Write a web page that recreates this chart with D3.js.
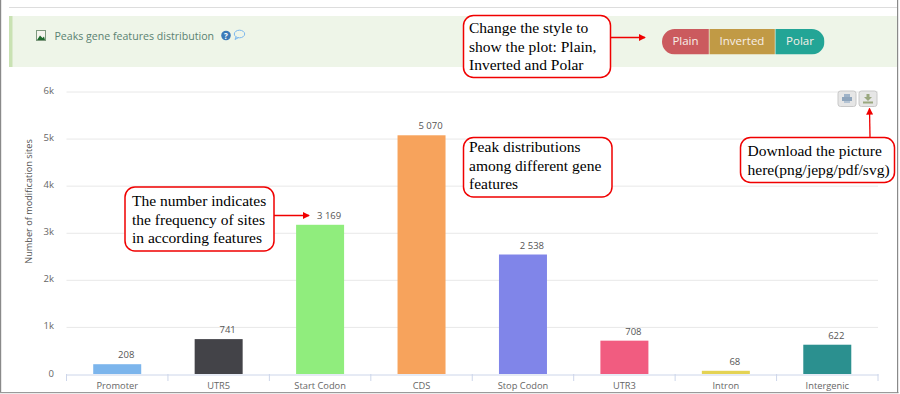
<!DOCTYPE html>
<html>
<head>
<meta charset="utf-8">
<script src="https://cdn.jsdelivr.net/npm/d3@7"></script>
<style>
  html, body { margin: 0; padding: 0; background: white; overflow: hidden; }
  text { font-family: "Open Sans", sans-serif; }
  .note { font-family: "Liberation Serif", serif; font-size: 15.5px; fill: #000; }
</style>
</head>
<body>
<div id="container"></div>
<script>
let w = 900;
let h = 394;

let categories = ["Promoter", "UTR5", "Start Codon", "CDS", "Stop Codon", "UTR3", "Intron", "Intergenic"];
let sites = [208, 741, 3169, 5070, 2538, 708, 68, 622];
let barColors = ["#7cb5ec", "#434348", "#90ed7d", "#f7a35c", "#8085e9", "#f15c80", "#e4d354", "#2b908f"];
let yTicks = [0, 1000, 2000, 3000, 4000, 5000, 6000];
let yTickLabels = ["0", "1k", "2k", "3k", "4k", "5k", "6k"];
let styleButtons = ["Plain", "Inverted", "Polar"];
let styleColors = ["#cb5a5e", "#c19a45", "#23a596"];

let viz = d3.select("#container")
  .append("svg")
    .attr("width", w)
    .attr("height", h)
    .style("display", "block")
    .style("background-color", "white")
;

let defs = viz.append("defs");
defs.append("marker")
    .attr("id", "arrow")
    .attr("viewBox", "0 0 8 8")
    .attr("refX", 7)
    .attr("refY", 4)
    .attr("markerWidth", 7)
    .attr("markerHeight", 7)
    .attr("markerUnits", "userSpaceOnUse")
    .attr("orient", "auto")
  .append("path")
    .attr("d", "M0,0L8,4L0,8Z")
    .attr("fill", "#f00000")
;

// page frame
viz.append("rect").attr("x", 0).attr("y", 0).attr("width", 1.2).attr("height", 393).attr("fill", "#8a8a8a");
viz.append("rect").attr("x", 0).attr("y", 392).attr("width", 898.5).attr("height", 1.2).attr("fill", "#9a9a9a");
viz.append("rect").attr("x", 897).attr("y", 0).attr("width", 1.2).attr("height", 393).attr("fill", "#8a8a8a");
viz.append("line").attr("x1", 9).attr("x2", 897).attr("y1", 7.5).attr("y2", 7.5).attr("stroke", "#dddddd");

// green header panel
viz.append("rect").attr("x", 9).attr("y", 16).attr("width", 888).attr("height", 51).attr("fill", "#eef5e8");
viz.append("rect").attr("x", 9).attr("y", 16).attr("width", 3.5).attr("height", 51).attr("fill", "#c9e2b3");

let head = viz.append("g");
head.append("rect").attr("x", 36.5).attr("y", 30.5).attr("width", 9).attr("height", 10).attr("fill", "#f5f5ee").attr("stroke", "#7f9a7f");
head.append("path").attr("d", "M37,40L40,35.5L42.5,38L44,36.5L45,40Z").attr("fill", "#1f6b2e");
head.append("text")
    .text("Peaks gene features distribution")
    .attr("x", 54.5)
    .attr("y", 39.5)
    .attr("font-size", 10.6)
    .attr("fill", "#5a8272")
;
head.append("circle").attr("cx", 226).attr("cy", 35.5).attr("r", 4.8).attr("fill", "#3a7ab8");
head.append("text").text("?").attr("x", 226).attr("y", 38.5).attr("text-anchor", "middle").attr("font-size", 8).attr("font-weight", 700).attr("fill", "white");
head.append("ellipse").attr("cx", 239.5).attr("cy", 34).attr("rx", 5.2).attr("ry", 3.8).attr("fill", "none").attr("stroke", "#7db8ee");
head.append("path").attr("d", "M236,37L235,39.5L238.5,37.6").attr("fill", "none").attr("stroke", "#7db8ee");

// plain / inverted / polar buttons
let buttonEdges = [662, 709.5, 775.5, 824.5];
let buttonTop = 29;
let buttonH = 25.5;
viz.append("clipPath").attr("id", "pill")
  .append("rect").attr("x", 662).attr("y", buttonTop).attr("width", 162.5).attr("height", buttonH).attr("rx", 12.7);
let buttons = viz.append("g").attr("clip-path", "url(#pill)");
buttons.selectAll("rect").data(styleButtons).enter()
  .append("rect")
    .attr("x", (d, i) => buttonEdges[i])
    .attr("y", buttonTop)
    .attr("width", (d, i) => buttonEdges[i + 1] - buttonEdges[i] - (i < 2 ? 0.7 : 0))
    .attr("height", buttonH)
    .attr("fill", (d, i) => styleColors[i])
;
viz.selectAll(".btnlabel").data(styleButtons).enter()
  .append("text")
    .classed("btnlabel", true)
    .text(d => d)
    .attr("x", (d, i) => [685.5, 742, 800][i])
    .attr("y", 45)
    .attr("text-anchor", "middle")
    .attr("font-size", 11.5)
    .attr("fill", "#f7efe8")
;

// chart
let x0 = 66.5, x1 = 878, yBase = 374, yTop = 91.5;
let xScale = d3.scaleBand().domain(categories).range([x0, x1]);
let yScale = d3.scaleLinear().domain([0, 6000]).range([yBase, yTop]);
let barWidth = 48;

function barX(d, i){
  return xScale(categories[i]) + (xScale.bandwidth() - barWidth) / 2;
}

viz.append("g")
    .attr("transform", "translate(" + x0 + ",0)")
    .call(d3.axisLeft(yScale).tickValues(yTicks.slice(1)).tickSize(-(x1 - x0)).tickFormat(""))
    .call(g => g.select(".domain").remove())
    .call(g => g.selectAll("line").attr("stroke", "#e8e8e8"))
;

viz.selectAll(".bar").data(sites).enter()
  .append("rect")
    .classed("bar", true)
    .attr("x", barX)
    .attr("y", d => yScale(d))
    .attr("width", barWidth)
    .attr("height", d => yBase - yScale(d))
    .attr("fill", (d, i) => barColors[i])
;

let formatValue = d3.formatLocale({ thousands: " ", grouping: [3], decimal: ".", currency: ["", ""] }).format(",");
viz.selectAll(".value").data(sites).enter()
  .append("text")
    .classed("value", true)
    .text(d => formatValue(d))
    .attr("x", (d, i) => barX(d, i) + barWidth / 2 + 9)
    .attr("y", d => yScale(d) - 6)
    .attr("text-anchor", "middle")
    .attr("font-size", 9.5)
    .attr("fill", "#555555")
;

let xAxis = viz.append("g")
    .attr("transform", "translate(0," + (yBase + 0.5) + ")")
    .call(d3.axisBottom(xScale).tickSize(0).tickPadding(8))
;
xAxis.select(".domain").attr("stroke", "#cdd6ea");
xAxis.selectAll("text").attr("font-family", "Open Sans").attr("font-size", 9.3).attr("fill", "#666666");
viz.append("g")
    .selectAll("line").data(d3.range(categories.length + 1)).enter()
  .append("line")
    .attr("x1", i => x0 + i * xScale.step())
    .attr("x2", i => x0 + i * xScale.step())
    .attr("y1", yBase)
    .attr("y2", yBase + 7)
    .attr("stroke", "#cdd6ea")
;

viz.selectAll(".ylab").data(yTicks).enter()
  .append("text")
    .classed("ylab", true)
    .text((d, i) => yTickLabels[i])
    .attr("x", 54)
    .attr("y", d => yScale(d) + 2.5)
    .attr("text-anchor", "end")
    .attr("font-size", 9.5)
    .attr("fill", "#666666")
;

viz.append("text")
    .text("Number of modification sites")
    .attr("transform", "translate(32,201.5) rotate(-90)")
    .attr("text-anchor", "middle")
    .attr("font-size", 9.2)
    .attr("fill", "#555555")
;

// print + download buttons
let iconBtns = viz.selectAll(".iconbtn").data([838, 859]).enter()
  .append("rect")
    .classed("iconbtn", true)
    .attr("x", d => d)
    .attr("y", 91)
    .attr("width", 18)
    .attr("height", 15.5)
    .attr("rx", 2.5)
    .attr("fill", "#e6e6e6")
    .attr("stroke", "#c8c8c8")
;
viz.append("rect").attr("x", 844).attr("y", 94).attr("width", 6).attr("height", 3).attr("fill", "#9fb3c8");
viz.append("rect").attr("x", 842).attr("y", 97).attr("width", 10).attr("height", 4).attr("fill", "#8fa5bc");
viz.append("rect").attr("x", 844).attr("y", 101).attr("width", 6).attr("height", 2).attr("fill", "#b5c4d4");
viz.append("path").attr("d", "M866.5,94h3v3h2.5l-4,4l-4,-4h2.5Z").attr("fill", "#9aa77f");
viz.append("rect").attr("x", 863).attr("y", 101.5).attr("width", 10).attr("height", 2).attr("fill", "#9aa77f");

// callouts
let noteBoxes = [
  { x: 463.5, y: 15.5, w: 147, h: 62, lines: ["Change the style to", "show the plot: Plain,", "Inverted and Polar"], tx: 469, ty: 33 },
  { x: 463.5, y: 137.5, w: 148.5, h: 59.5, lines: ["Peak distributions", "among different gene", "features"], tx: 469, ty: 152 },
  { x: 740.5, y: 137.5, w: 154, h: 45, lines: ["Download the picture", "here(png/jepg/pdf/svg)"], tx: 747.5, ty: 156 },
  { x: 125, y: 187, w: 149, h: 64, lines: ["The number indicates", "the frequency of sites", "in according features"], tx: 132, ty: 206 }
];
let notes = viz.selectAll(".notebox").data(noteBoxes).enter()
  .append("g")
    .classed("notebox", true)
;
notes.append("rect")
    .attr("x", d => d.x)
    .attr("y", d => d.y)
    .attr("width", d => d.w)
    .attr("height", d => d.h)
    .attr("rx", 10)
    .attr("fill", "white")
    .attr("stroke", "#f00000")
    .attr("stroke-width", 1.5)
;
notes.each(function(d){
  d3.select(this).selectAll("text").data(d.lines).enter()
    .append("text")
      .classed("note", true)
      .text(l => l)
      .attr("x", d.tx)
      .attr("y", (l, i) => d.ty + i * 18.6)
  ;
});

let arrows = [[610, 37.5, 645, 37.5], [870, 137, 869.5, 108.5], [274, 215.5, 309, 215.5]];
viz.selectAll(".arrow").data(arrows).enter()
  .append("line")
    .classed("arrow", true)
    .attr("x1", d => d[0])
    .attr("y1", d => d[1])
    .attr("x2", d => d[2])
    .attr("y2", d => d[3])
    .attr("stroke", "#f00000")
    .attr("stroke-width", 1.3)
    .attr("marker-end", "url(#arrow)")
;
</script>
</body>
</html>
